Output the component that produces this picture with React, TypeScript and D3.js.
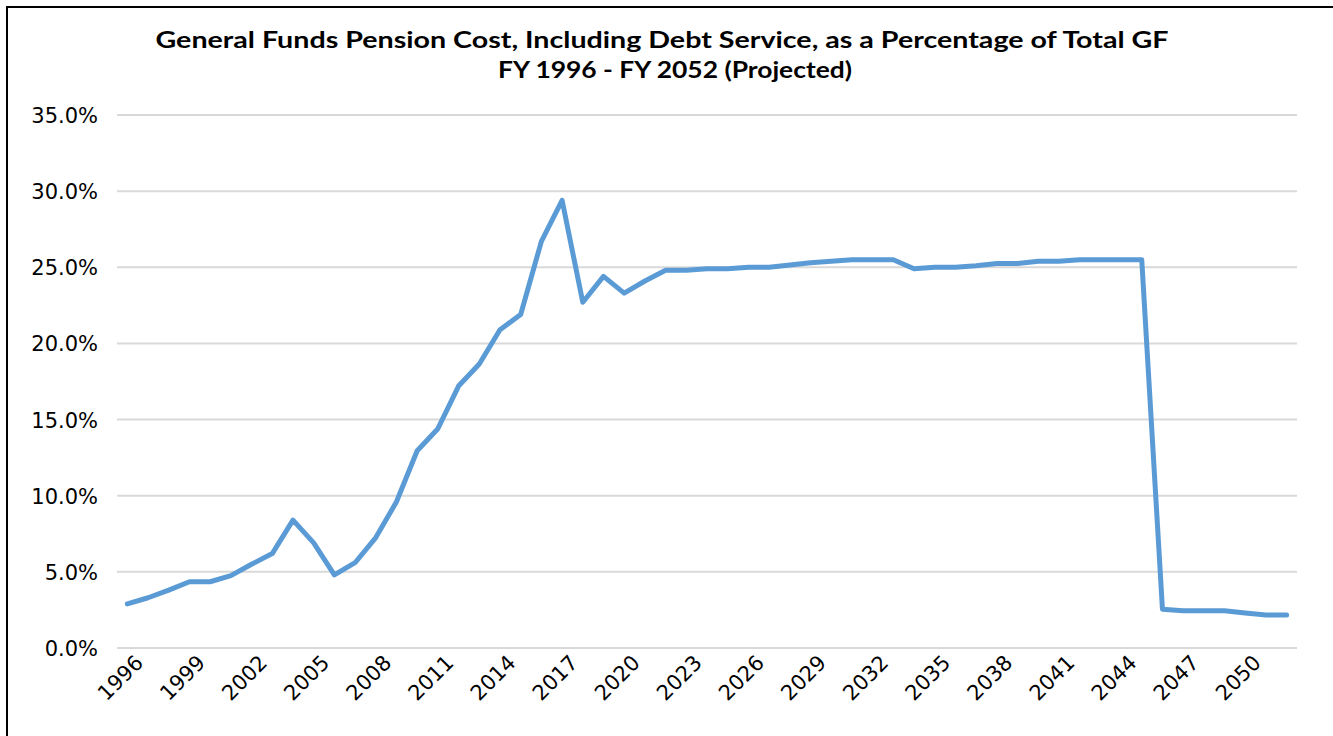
import React from "react";
import * as d3 from "d3";

const years: number[] = d3.range(1996, 2053);
const values: number[] = [
  2.9, 3.3, 3.8, 4.35, 4.35, 4.75, 5.5, 6.2, 8.4, 6.9,
  4.8, 5.6, 7.25, 9.6, 12.95, 14.4, 17.2, 18.65, 20.9, 21.9,
  26.7, 29.4, 22.7, 24.4, 23.3, 24.1, 24.8, 24.8, 24.9, 24.9,
  25.0, 25.0, 25.15, 25.3, 25.4, 25.5, 25.5, 25.5, 24.9, 25.0,
  25.0, 25.1, 25.25, 25.25, 25.4, 25.4, 25.5, 25.5, 25.5, 25.5,
  2.55, 2.45, 2.45, 2.45, 2.3, 2.17, 2.17,
];
const yTicks: number[] = [0, 5, 10, 15, 20, 25, 30, 35];
const xTickYears: number[] = years.filter((y) => (y - 1996) % 3 === 0);
const titleLine1 = "General Funds  Pension  Cost, Including  Debt Service, as a Percentage of Total GF";
const titleLine2 = "FY 1996 - FY 2052 (Projected)";

export default function App() {
  const W = 1333;
  const H = 736;
  const plotLeft = 117;
  const plotRight = 1297;
  const plotTop = 115;
  const plotBottom = 648;

  const x = d3
    .scaleBand<number>()
    .domain(years)
    .range([plotLeft, plotRight]);
  const cx = (yr: number) => (x(yr) as number) + x.bandwidth() / 2;
  const y = d3.scaleLinear().domain([0, 35]).range([plotBottom, plotTop]);

  const line = d3
    .line<number>()
    .x((_, i) => cx(years[i]))
    .y((d) => y(d));

  return (
    <svg
      width={W}
      height={H}
      style={{ position: "absolute", left: 0, top: 0, background: "#fff" }}
    >
      <rect x={0} y={0} width={W} height={H} fill="#fff" />
      <rect x={7} y={7} width={W + 20} height={H + 20} fill="none" stroke="#000" strokeWidth={2} />
      <text
        x={662}
        y={48}
        textAnchor="middle"
        fontFamily="Lato, 'Open Sans', sans-serif"
        fontWeight="bold"
        fontSize={23}
        textLength={1013}
        lengthAdjust="spacingAndGlyphs"
        fill="#000"
      >
        {titleLine1}
      </text>
      <text
        x={675}
        y={78}
        textAnchor="middle"
        fontFamily="Lato, 'Open Sans', sans-serif"
        fontWeight="bold"
        fontSize={23}
        textLength={354}
        lengthAdjust="spacingAndGlyphs"
        fill="#000"
      >
        {titleLine2}
      </text>
      {yTicks.map((t) => (
        <g key={t}>
          <line
            x1={plotLeft}
            x2={plotRight}
            y1={y(t)}
            y2={y(t)}
            stroke="#D9D9D9"
            strokeWidth={2}
          />
          <text
            x={98}
            y={y(t) + 8}
            textAnchor="end"
            fontFamily="'DejaVu Sans', sans-serif"
            fontSize={21}
            fill="#000"
          >
            {t.toFixed(1) + "%"}
          </text>
        </g>
      ))}
      {xTickYears.map((yr) => (
        <text
          key={yr}
          transform={`translate(${cx(yr) + 17},${664}) rotate(-45)`}
          textAnchor="end"
          fontFamily="'DejaVu Sans', sans-serif"
          fontSize={21}
          fill="#000"
        >
          {yr}
        </text>
      ))}
      <path
        d={line(values) || ""}
        fill="none"
        stroke="#5B9BD5"
        strokeWidth={5}
        strokeLinejoin="round"
        strokeLinecap="round"
      />
    </svg>
  );
}
